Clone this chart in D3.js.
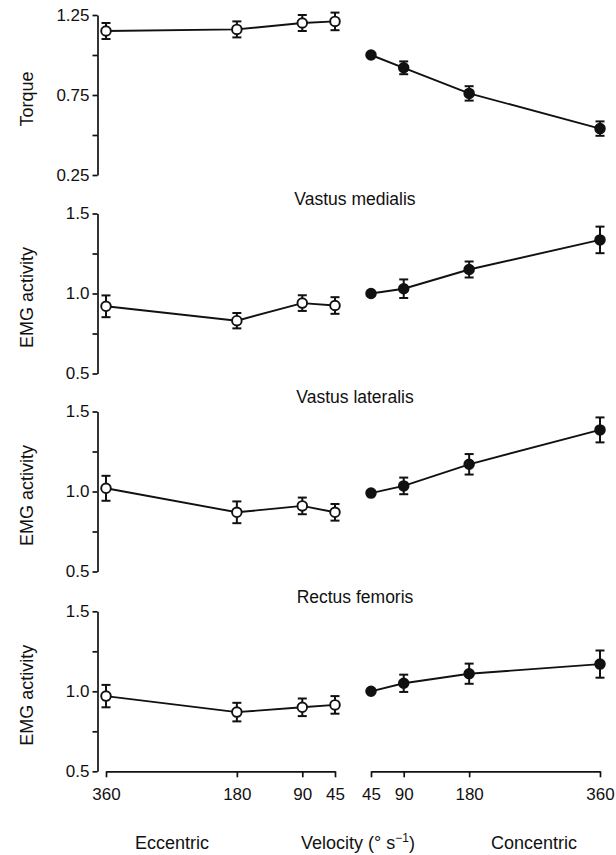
<!DOCTYPE html>
<html>
<head>
<meta charset="utf-8">
<script src="https://cdn.jsdelivr.net/npm/d3@7"></script>
<style>
  html, body { margin: 0; padding: 0; background: #fff; }
  svg { display: block; }
  text { font-family: "Liberation Sans", Arial, Helvetica, sans-serif; fill: #111; }
</style>
</head>
<body>
<svg id="chart" width="616" height="855"></svg>
<script>
// Angular velocities (deg/s)
const eccVelocities = [360, 180, 90, 45];
const conVelocities = [45, 90, 180, 360];

// Panel titles and y-axis labels
const panelTitles = ["", "Vastus medialis", "Vastus lateralis", "Rectus femoris"];
const yLabels = ["Torque", "EMG activity", "EMG activity", "EMG activity"];

// Torque (normalised), eccentric / concentric, means and SE
const torqueEcc = [1.15, 1.16, 1.20, 1.21];
const torqueEccErr = [0.05, 0.05, 0.05, 0.055];
const torqueCon = [1.00, 0.92, 0.76, 0.54];
const torqueConErr = [0, 0.04, 0.045, 0.045];

// Vastus medialis EMG
const vmEcc = [0.92, 0.83, 0.94, 0.925];
const vmEccErr = [0.068, 0.048, 0.049, 0.052];
const vmCon = [1.00, 1.03, 1.15, 1.335];
const vmConErr = [0, 0.058, 0.05, 0.083];

// Vastus lateralis EMG
const vlEcc = [1.02, 0.87, 0.91, 0.87];
const vlEccErr = [0.078, 0.068, 0.052, 0.052];
const vlCon = [0.99, 1.035, 1.17, 1.385];
const vlConErr = [0, 0.052, 0.064, 0.078];

// Rectus femoris EMG
const rfEcc = [0.97, 0.87, 0.90, 0.915];
const rfEccErr = [0.07, 0.058, 0.055, 0.055];
const rfCon = [1.00, 1.05, 1.11, 1.17];
const rfConErr = [0, 0.054, 0.063, 0.085];

// Y-axis domains and tick values per panel
const torqueDomain = [0.25, 1.25];
const torqueTicks = [0.25, 0.5, 0.75, 1.0, 1.25];
const torqueTickLabels = ["0.25", "", "0.75", "", "1.25"];
const emgDomain = [0.5, 1.5];
const emgTicks = [0.5, 0.75, 1.0, 1.25, 1.5];
const emgTickLabels = ["0.5", "", "1.0", "", "1.5"];

// X tick labels
const xTickLabels = ["360", "180", "90", "45"];

const panels = [
  { ecc: torqueEcc, eccErr: torqueEccErr, con: torqueCon, conErr: torqueConErr,
    domain: torqueDomain, ticks: torqueTicks, tickLabels: torqueTickLabels },
  { ecc: vmEcc, eccErr: vmEccErr, con: vmCon, conErr: vmConErr,
    domain: emgDomain, ticks: emgTicks, tickLabels: emgTickLabels },
  { ecc: vlEcc, eccErr: vlEccErr, con: vlCon, conErr: vlConErr,
    domain: emgDomain, ticks: emgTicks, tickLabels: emgTickLabels },
  { ecc: rfEcc, eccErr: rfEccErr, con: rfCon, conErr: rfConErr,
    domain: emgDomain, ticks: emgTicks, tickLabels: emgTickLabels }
];

// Layout
const axisX = 97.5;
const panelTops = [15, 213.5, 411.5, 611.3];
const panelH = 160;

const svg = d3.select("#chart");

const xEcc = d3.scaleLinear().domain([360, 45]).range([106, 335]);
const xCon = d3.scaleLinear().domain([45, 360]).range([371, 600]);

const ink = "#111";

panels.forEach((p, i) => {
  const top = panelTops[i];
  const y = d3.scaleLinear().domain(p.domain).range([top + panelH, top]);

  // Y axis
  const yAxis = d3.axisLeft(y)
    .tickValues(p.ticks)
    .tickFormat((d, k) => p.tickLabels[k])
    .tickSize(5)
    .tickSizeOuter(0)
    .tickPadding(3);
  const gy = svg.append("g")
    .attr("transform", `translate(${axisX},0)`)
    .call(yAxis);
  gy.select(".domain").attr("stroke", ink).attr("stroke-width", 1.7);
  gy.selectAll(".tick line").attr("stroke", ink).attr("stroke-width", 1.7);
  gy.selectAll(".tick text")
    .attr("font-size", 17)
    .attr("font-family", "Liberation Sans, Arial, sans-serif")
    .style("fill", ink);

  // Y axis label
  svg.append("text")
    .attr("transform", `translate(33,${top + panelH / 2 + 4}) rotate(-90)`)
    .attr("text-anchor", "middle")
    .attr("font-size", 18)
    .text(yLabels[i]);

  // Panel title
  if (panelTitles[i]) {
    svg.append("text")
      .attr("x", 355)
      .attr("y", top - 8.5)
      .attr("text-anchor", "middle")
      .attr("font-size", 17.5)
      .text(panelTitles[i]);
  }

  const groups = [
    { x: xEcc, vel: eccVelocities, vals: p.ecc, errs: p.eccErr, fill: "#fff" },
    { x: xCon, vel: conVelocities, vals: p.con, errs: p.conErr, fill: ink }
  ];

  groups.forEach(gd => {
    const pts = gd.vel.map((v, k) => ({ v, m: gd.vals[k], e: gd.errs[k] }));
    const g = svg.append("g");

    // connecting line
    g.append("path")
      .datum(pts)
      .attr("fill", "none")
      .attr("stroke", ink)
      .attr("stroke-width", 1.9)
      .attr("d", d3.line().x(d => gd.x(d.v)).y(d => y(d.m)));

    // error bars
    const eb = g.selectAll(".eb").data(pts.filter(d => d.e > 0)).join("g");
    eb.append("line")
      .attr("x1", d => gd.x(d.v)).attr("x2", d => gd.x(d.v))
      .attr("y1", d => y(d.m - d.e)).attr("y2", d => y(d.m + d.e))
      .attr("stroke", ink).attr("stroke-width", 2);
    [-1, 1].forEach(s => {
      eb.append("line")
        .attr("x1", d => gd.x(d.v) - 4.5).attr("x2", d => gd.x(d.v) + 4.5)
        .attr("y1", d => y(d.m + s * d.e)).attr("y2", d => y(d.m + s * d.e))
        .attr("stroke", ink).attr("stroke-width", 2);
    });

    // markers
    g.selectAll("circle").data(pts).join("circle")
      .attr("cx", d => gd.x(d.v))
      .attr("cy", d => y(d.m))
      .attr("r", 4.8)
      .attr("fill", gd.fill)
      .attr("stroke", ink)
      .attr("stroke-width", 1.9);
  });

  // X axes on the bottom panel
  if (i === panels.length - 1) {
    const baseY = y(p.domain[0]);
    [[xEcc, eccVelocities], [xCon, conVelocities]].forEach(([xs, vels]) => {
      const ax = d3.axisBottom(xs)
        .tickValues(vels)
        .tickFormat(d => xTickLabels[eccVelocities.indexOf(d)])
        .tickSize(6)
        .tickSizeOuter(0)
        .tickPadding(11);
      const gx = svg.append("g")
        .attr("transform", `translate(0,${baseY})`)
        .call(ax);
      gx.select(".domain").attr("stroke", ink).attr("stroke-width", 1.7);
      gx.selectAll(".tick line").attr("stroke", ink).attr("stroke-width", 1.7);
      gx.selectAll(".tick text")
        .attr("font-size", 17)
        .attr("font-family", "Liberation Sans, Arial, sans-serif")
        .style("fill", ink);
    });
  }
});

// Bottom captions
svg.append("text").attr("x", 172).attr("y", 849).attr("text-anchor", "middle")
  .attr("font-size", 18).text("Eccentric");
const vel = svg.append("text").attr("x", 358).attr("y", 849).attr("text-anchor", "middle")
  .attr("font-size", 18);
vel.append("tspan").text("Velocity (° s");
vel.append("tspan").attr("dy", -7).attr("font-size", 12).text("−1");
vel.append("tspan").attr("dy", 7).text(")");
svg.append("text").attr("x", 534).attr("y", 849).attr("text-anchor", "middle")
  .attr("font-size", 18).text("Concentric");
</script>
</body>
</html>
